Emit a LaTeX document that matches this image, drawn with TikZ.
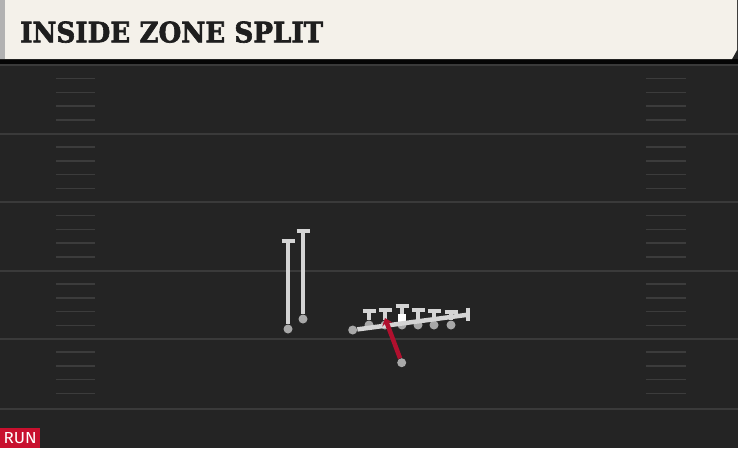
\documentclass[tikz,border=0pt]{standalone}
\usepackage{fontspec}
\setmainfont{DejaVu Serif}
\newfontfamily\titlefont[FakeBold=2.2]{DejaVu Serif Bold}
\newfontfamily\badgefont{Fira Sans}
\usetikzlibrary{arrows.meta}
\definecolor{fieldbg}{HTML}{242424}
\definecolor{fieldline}{HTML}{3A3A3A}
\definecolor{hashc}{HTML}{3C3C3C}
\definecolor{titlebg}{HTML}{F4F1EA}
\definecolor{titletext}{HTML}{1E1E1E}
\definecolor{playerc}{HTML}{D4D4D4}
\definecolor{dotc}{HTML}{A8A8A8}
\definecolor{runred}{HTML}{B0102E}
\definecolor{badgered}{HTML}{C8102E}
\tikzset{
  yardline/.style={draw=fieldline, line width=2pt},
  hashmark/.style={draw=hashc, line width=1.5pt},
  route/.style={draw=playerc, line width=4.5pt},
  blockbar/.style={draw=playerc, line width=4pt},
  playerdot/.style={circle, fill=dotc, minimum size=9pt, inner sep=0pt},
  runroute/.style={draw=runred, line width=4.5pt},
}
\begin{document}
\begin{tikzpicture}[x=1pt, y=-1pt]
\useasboundingbox (0,0) rectangle (738,448);
% background
\fill[fieldbg] (0,0) rectangle (738,448);
\fill[black!85!fieldbg] (0,59) rectangle (738,64);
% yard lines
\foreach \yy in {65,133.5,202,270.5,338.5,408.5}
  \draw[yardline] (0,\yy) -- (738,\yy);
% hash marks
\foreach \yy in {65,133.5,202,270.5,338.5}{
  \foreach \dd in {13.7,27.4,41.1,54.8}{
    \draw[hashmark] (56,\yy+\dd) -- (95,\yy+\dd);
    \draw[hashmark] (646,\yy+\dd) -- (686,\yy+\dd);
  }
}
% title bar
\fill[titlebg] (0,0) -- (737,0) -- (737,50) -- (732,59) -- (0,59) -- cycle;
\fill[black!30] (0,0) rectangle (5,59);
\node[anchor=south west, inner sep=0pt, text=titletext] (title) at (20,43)
  {\resizebox{303pt}{21pt}{\titlefont INSIDE ZONE SPLIT}};
% RUN badge
\node[anchor=south west, fill=badgered, minimum width=40pt, minimum height=20pt, inner sep=0pt] (badge) at (0,448) {};
\node[text=white, inner sep=0pt] (runlbl) at (badge.center)
  {\resizebox{33pt}{11pt}{\badgefont RUN}};
% backfield players (vertical routes)
\node[playerdot] (b1) at (288,329) {};
\node[playerdot] (b2) at (303,319) {};
\coordinate (b1t) at (288,241);
\coordinate (b2t) at (303,231);
\draw[route] (b1) -- (b1t);
\draw[route] (b2) -- (b2t);
\draw[blockbar] (281.5,241) -- (294.5,241);
\draw[blockbar] (296.5,231) -- (309.5,231);
% linemen
\foreach \i/\xx/\ty in {1/369/310.5,2/385/309.5,3/402/306,4/418/310,5/434/311.3,6/451/312}{
  \coordinate (l\i t) at (\xx,\ty);
  \node[playerdot] (l\i) at (\xx,325) {};
  \draw[route, line width=4pt] (l\i) -- (l\i t);
  \draw[blockbar] (\xx-6.5,\ty) -- (\xx+6.5,\ty);
}
% center ball marker
\node[fill=white, minimum size=8pt, inner sep=0pt] (ball) at (402,317.5) {};
% split-zone across path
\node[playerdot] (h) at (352.7,330) {};
\coordinate (hend) at (468,314.7);
\draw[route] (h) -- (hend);
\draw[blockbar] (468,307.5) -- (468,320.5);
% running back path
\node[playerdot] (rb) at (401.7,362.7) {};
\coordinate (rbend) at (385,318);
\draw[runroute, -{Stealth[length=7pt, width=11pt]}] (rb) -- (rbend);
\end{tikzpicture}
\end{document}
